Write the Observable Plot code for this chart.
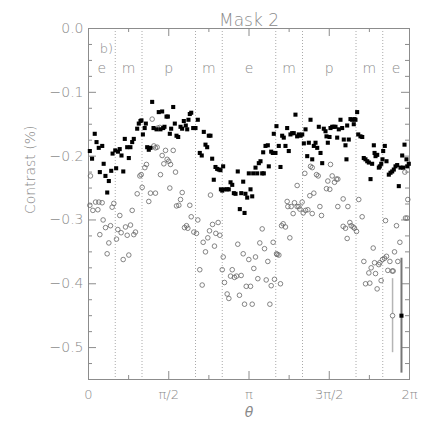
<!DOCTYPE html>
<html><head><meta charset="utf-8">
<script src="https://cdn.jsdelivr.net/npm/d3@7"></script>
<script src="https://cdn.jsdelivr.net/npm/@observablehq/plot@0.6"></script>
<style>html,body{margin:0;padding:0;background:#fff}</style>
</head><body><div id="chart"></div>
<script>
const chartTitle = "Mask 2";
const panelTag = "b)";
const yTitle = "Contrast (%)";
const xTitle = "θ";

// filled squares: angle (degrees) and contrast
const sqDeg = [1.5,4,7,9,11.5,12.7,15.4,17,19,21,22.8,25.5,27,30,31,33,35,37,39,40.7,43.4,45.2,47,49,50.8,54.6,56.4,58.3,59.4,61,63,64.3,65.8,67.6,69.5,71.4,72.9,76.3,78.8,80.7,82.6,83.8,85.2,87.5,89,91.2,92.7,95,96.8,98.7,100.6,103.2,105,106.9,109.1,110.7,112.1,113.6,115.2,117.4,120,122.6,124.8,127,129.3,131.2,133.1,134.9,136.8,138.7,140.5,142.4,144.3,146.1,148,151,148.5,150,152.5,155.5,157.3,159.3,161.2,163,164.9,167.4,169.7,171.3,173.5,175,176,178,179.8,181.7,183.6,184.7,187.3,189.2,191,192.9,
194.8,196.6,195.9,198.5,201.1,202.2,204.9,206.7,207.8,209.7,210.8,213.4,215.3,217.2,219,220.9,222.8,224.6,226.5,228.4,230.2,232.1,234,235.8,237.8,239.7,241.5,243.4,245.3,247.1,249,250.9,252.7,254.6,256.5,258.3,260.2,262.1,263.9,265.8,266.9,268.4,270.3,271.4,273.3,275.1,277,278.9,280.7,282.6,284.5,286.3,288.2,289.3,290.1,291.9,293.8,295.7,297.5,298.3,299.4,301.3,302.5,305,307,308.7,310.6,312.6,314.4,316.3,318.1,320,320.8,321.9,323.8,325.6,326.7,328.3,329.7,330.5,332.3,334.2,336.8,338.7,340.6,342.4,344.3,346.2,348,349.9,351.8,352.9,354.4,356.6,357.4,359.2];
const sqVal = [-0.192,-0.204,-0.165,-0.178,-0.187,-0.225,-0.184,-0.212,-0.231,-0.257,-0.239,-0.223,-0.196,-0.191,-0.219,-0.193,-0.189,-0.199,-0.224,-0.173,-0.186,-0.203,-0.186,-0.178,-0.173,-0.157,-0.149,-0.145,-0.144,-0.166,-0.156,-0.149,-0.186,-0.190,-0.187,-0.115,-0.156,-0.158,-0.131,-0.158,-0.130,-0.156,-0.154,-0.138,-0.138,-0.165,-0.157,-0.123,-0.149,-0.168,-0.170,-0.154,-0.157,-0.145,-0.152,-0.158,-0.143,-0.134,-0.132,-0.156,-0.156,-0.143,-0.195,-0.199,-0.162,-0.182,-0.186,-0.168,-0.168,-0.204,-0.237,-0.217,-0.220,-0.221,-0.222,-0.216,-0.252,-0.254,-0.252,-0.252,-0.252,-0.241,-0.245,-0.258,-0.259,-0.224,-0.283,-0.258,-0.240,-0.289,-0.259,-0.265,-0.227,-0.252,-0.263,-0.227,-0.218,-0.227,-0.211,-0.208,
-0.227,-0.227,-0.194,-0.184,-0.183,-0.216,-0.193,-0.195,-0.165,-0.195,-0.153,-0.184,-0.217,-0.168,-0.171,-0.184,-0.156,-0.192,-0.166,-0.164,-0.164,-0.135,-0.169,-0.166,-0.168,-0.166,-0.180,-0.158,-0.200,-0.179,-0.143,-0.205,-0.184,-0.179,-0.187,-0.154,-0.195,-0.211,-0.157,-0.161,-0.169,-0.179,-0.170,-0.156,-0.154,-0.154,-0.154,-0.171,-0.158,-0.143,-0.156,-0.174,-0.183,-0.205,-0.152,-0.174,-0.142,-0.143,-0.150,-0.142,-0.143,-0.131,-0.166,-0.169,-0.170,-0.203,-0.205,-0.208,-0.210,-0.236,-0.212,-0.183,-0.195,-0.200,-0.198,-0.218,-0.216,-0.212,-0.205,-0.192,-0.184,-0.208,-0.229,-0.226,-0.224,-0.221,-0.216,-0.214,-0.247,-0.218,-0.199,-0.218,-0.182,-0.205,-0.216,-0.212];

// open circles: angle (degrees) and contrast
const ciDeg = [2.2,54.6,57.6,59.1,60.2,63.2,65,69.5,75.1,71.4,73.3,75.1,77,77.7,80,80.7,82.6,84.5,86.4,88.2,90,92,95,97.6,91.2,105.1,136.8,103.2,
1.5,4.9,7.9,10.5,11.6,15.3,16.4,12.7,19.1,24.7,22.8,20.9,26.5,28.4,31.4,35.1,32.9,36.6,38.9,41.5,43.4,45.2,47.1,49,50.8,52.7,67.6,98.7,101.3,113.6,115.2,107.7,109.9,111.4,118.1,121.1,122.6,128.6,131.2,124.8,127.5,133.8,135.7,139.1,141.3,142.8,145.4,147.3,151.1,150,152.5,155.5,157.4,159.3,161.2,163.7,166,167.4,169.3,171.2,173.5,175,176.9,179.8,181.7,183.6,185.4,187.3,189.9,192.1,
234,242.6,249,250.9,255.7,257.6,271.4,273.3,275.9,278.1,279.6,268.4,266.9,270.6,252.7,248.2,303.1,285.6,358.1,354.8,
194.8,197.4,199.3,201.1,203.4,204.9,207.1,208.6,210.9,211.6,213.5,215.3,216.5,218.3,220.9,222.8,223.6,225.8,227.3,229.5,231,234,235.9,237,239.6,240.8,243.4,246,250.9,259.5,261.3,279.6,285.6,288.2,290.9,290.1,293.1,294.6,296.8,298.3,300.6,306.9,308.8,310.7,314.4,315.5,317,319.3,320.8,321.9,323.7,325.6,326.7,328.2,329.7,332,333.1,334.2,335.7,338,340.6,341.7,343.2,345.4,346.9,349.2,355.5,357.4];
const ciVal = [-0.231,-0.259,-0.231,-0.229,-0.249,-0.218,-0.213,-0.258,-0.258,-0.142,-0.184,-0.187,-0.186,-0.156,-0.155,-0.229,-0.199,-0.212,-0.191,-0.205,-0.208,-0.213,-0.191,-0.225,-0.250,-0.257,-0.261,-0.268,
-0.277,-0.285,-0.272,-0.284,-0.272,-0.273,-0.300,-0.323,-0.312,-0.309,-0.336,-0.353,-0.280,-0.274,-0.330,-0.293,-0.315,-0.320,-0.362,-0.311,-0.324,-0.355,-0.308,-0.285,-0.323,-0.319,-0.271,-0.278,-0.277,-0.277,-0.295,-0.312,-0.309,-0.313,-0.319,-0.321,-0.300,-0.335,-0.350,-0.378,-0.402,-0.328,-0.317,-0.307,-0.341,-0.321,-0.304,-0.324,-0.358,-0.378,-0.398,-0.416,-0.423,-0.388,-0.378,-0.390,-0.388,-0.338,-0.418,-0.387,-0.353,-0.432,-0.404,-0.362,-0.404,-0.432,-0.376,-0.358,-0.392,-0.336,
-0.246,-0.227,-0.216,-0.218,-0.229,-0.231,-0.213,-0.231,-0.241,-0.236,-0.236,-0.239,-0.251,-0.252,-0.258,-0.262,-0.268,-0.267,-0.268,-0.225,
-0.314,-0.345,-0.394,-0.365,-0.432,-0.403,-0.335,-0.393,-0.353,-0.354,-0.355,-0.400,-0.309,-0.306,-0.311,-0.271,-0.279,-0.328,-0.279,-0.290,-0.273,-0.279,-0.279,-0.283,-0.272,-0.289,-0.285,-0.284,-0.290,-0.279,-0.293,-0.279,-0.310,-0.313,-0.279,-0.329,-0.304,-0.309,-0.311,-0.313,-0.318,-0.295,-0.365,-0.400,-0.383,-0.399,-0.375,-0.344,-0.367,-0.384,-0.408,-0.370,-0.367,-0.395,-0.362,-0.360,-0.301,-0.357,-0.379,-0.365,-0.380,-0.380,-0.350,-0.309,-0.365,-0.335,-0.297,-0.297];

// representative error bars
const errDeg = [341, 351];
const errVal = [-0.45, -0.45];
const errHalf = [0.058, 0.09];
const errKind = ["circle", "square"];

// region separators and labels
const sepDeg = [30, 60, 120, 150, 210, 240, 300, 330];
const regionDeg = [15, 45, 90, 135, 180, 225, 270, 315, 345];
const regionLabels = ["e", "m", "p", "m", "e", "m", "p", "m", "e"];

// axis ticks
const xTickVals = [0, Math.PI/2, Math.PI, 3*Math.PI/2, 2*Math.PI];
const xTickLabels = ["0", "π/2", "π", "3π/2", "2π"];
const xMinor = [Math.PI/4, 3*Math.PI/4, 5*Math.PI/4, 7*Math.PI/4];
const yTickVals = [0, -0.1, -0.2, -0.3, -0.4, -0.5];
const yMinor = d3.range(0, 23).map(i => -i * 0.025).filter(v => Math.abs(v*10 - Math.round(v*10)) > 1e-6);

const rad = d => d * Math.PI / 180;
const squares = sqDeg.map((d, i) => ({theta: rad(d), c: sqVal[i]}));
const circles = ciDeg.map((d, i) => ({theta: rad(d), c: ciVal[i]}));
const errs = errDeg.map((d, i) => ({theta: rad(d), c: errVal[i], lo: errVal[i] - errHalf[i], hi: errVal[i] + errHalf[i], kind: errKind[i]}));

const W = 436, H = 436, mL = 88, mR = 27, mT = 28, mB = 57;
const innerW = W - mL - mR, innerH = H - mT - mB;
const grey = "#8c8c8c", textGrey = "#8a8a8a";
const font = "'DejaVu Sans', sans-serif";

const chart = Plot.plot({
  width: W, height: H,
  marginLeft: mL, marginRight: mR, marginTop: mT, marginBottom: mB,
  x: {domain: [0, 2*Math.PI]},
  y: {domain: [-0.55, 0]},
  style: {fontFamily: font, color: textGrey, background: "#fff", fontWeight: 300},
  marks: [
    Plot.ruleX(sepDeg, {x: d => rad(d), stroke: "#aaa", strokeDasharray: "1,2", strokeWidth: 1}),
    Plot.frame({stroke: grey}),
    // inward ticks
    Plot.ruleX(xTickVals, {x: d => d, stroke: grey, insetTop: innerH - 8}),
    Plot.ruleX(xTickVals, {x: d => d, stroke: grey, insetBottom: innerH - 8}),
    Plot.ruleX(xMinor, {x: d => d, stroke: grey, insetTop: innerH - 4}),
    Plot.ruleX(xMinor, {x: d => d, stroke: grey, insetBottom: innerH - 4}),
    Plot.ruleY(yTickVals, {y: d => d, stroke: grey, insetRight: innerW - 8}),
    Plot.ruleY(yTickVals, {y: d => d, stroke: grey, insetLeft: innerW - 8}),
    Plot.ruleY(yMinor, {y: d => d, stroke: grey, insetRight: innerW - 4}),
    Plot.ruleY(yMinor, {y: d => d, stroke: grey, insetLeft: innerW - 4}),
    Plot.axisX(xTickVals, {anchor: "bottom", tickSize: 0, tickPadding: 10, fontSize: 13,
      tickFormat: d => xTickLabels[xTickVals.indexOf(d)], label: null}),
    Plot.axisY(yTickVals, {anchor: "left", tickSize: 0, tickPadding: 5, fontSize: 14,
      tickFormat: d => d === 0 ? "0.0" : "\u2212" + Math.abs(d).toFixed(1), label: null}),
    // data
    Plot.dot(circles, {x: "theta", y: "c", r: 2.3, stroke: "#666", strokeWidth: 0.8, fill: "none"}),
    Plot.dot(squares, {x: "theta", y: "c", symbol: "square", r: 2.3, fill: "#000"}),
    // error bars
    Plot.ruleX(errs, {x: "theta", y1: "lo", y2: "hi", stroke: d => d.kind === "circle" ? "#b5b5b5" : "#777", strokeWidth: d => d.kind === "circle" ? 1.5 : 2}),
    Plot.dot(errs.filter(d => d.kind === "circle"), {x: "theta", y: "c", r: 2.3, stroke: "#666", strokeWidth: 0.8, fill: "#fff"}),
    Plot.dot(errs.filter(d => d.kind === "square"), {x: "theta", y: "c", symbol: "square", r: 2.3, fill: "#000"}),
    // text
    Plot.text(regionLabels, {x: (d, i) => rad(regionDeg[i]), frameAnchor: "top", dy: 35, fontSize: 14, fill: textGrey}),
    Plot.text([panelTag], {frameAnchor: "top-left", dx: 18, dy: 15, textAnchor: "middle", fontSize: 13, fill: textGrey}),
    Plot.text([chartTitle], {frameAnchor: "top", dy: -15, fontSize: 17, fill: textGrey}),
    Plot.text([xTitle], {frameAnchor: "bottom", dy: 37, fontSize: 14, fontStyle: "italic", fill: textGrey}),
    Plot.text([yTitle], {frameAnchor: "left", dx: -58, dy: 10, rotate: -90, fontSize: 14, fill: textGrey})
  ]
});
document.getElementById("chart").appendChild(chart);
</script></body></html>
